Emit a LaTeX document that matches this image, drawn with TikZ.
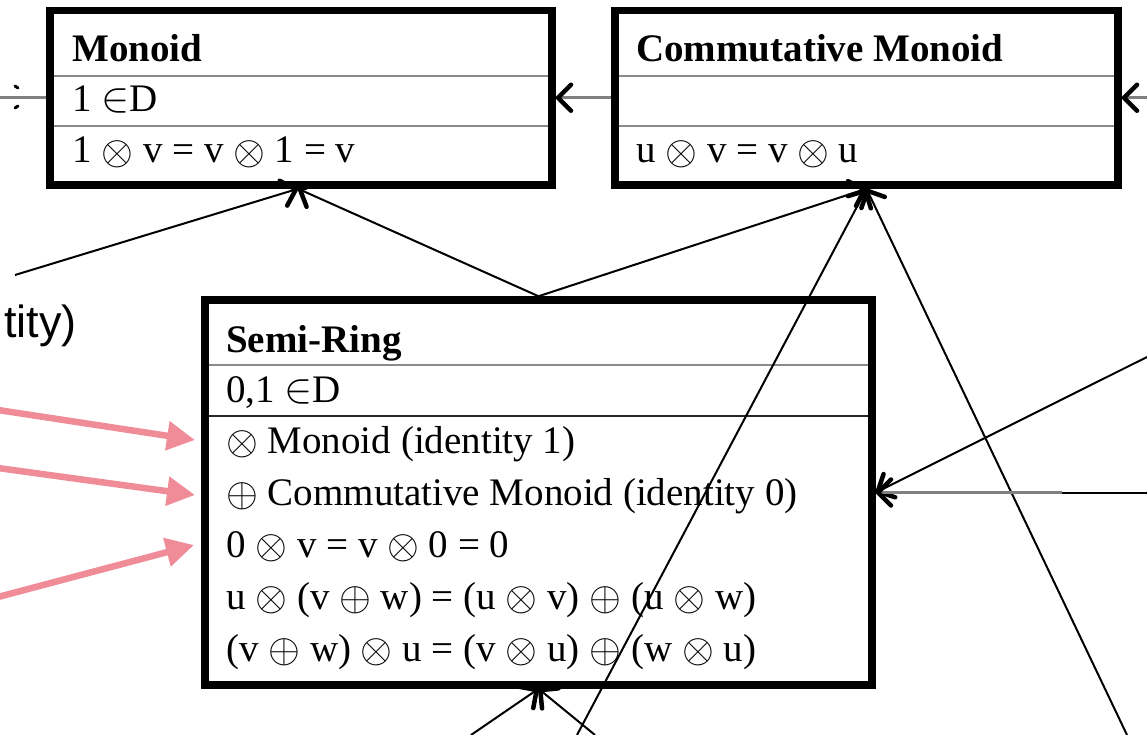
\RequirePackage{fix-cm}
\documentclass[tikz,border=0pt]{standalone}
\usepackage{fontspec}
\usepackage{graphicx}
\setmainfont{Liberation Serif}
\newfontfamily\sansf{Liberation Sans}
\usetikzlibrary{arrows.meta}
\definecolor{pinkarrow}{HTML}{F08C98}
\definecolor{divgray}{HTML}{8A8A8A}
\definecolor{linegray}{HTML}{808080}
\newcommand\otm{\raisebox{-0.04em}{\scalebox{1.05}{$\otimes$}}}
\newcommand\opl{\raisebox{-0.04em}{\scalebox{1.05}{$\oplus$}}}
\newcommand\elm{\scalebox{1.08}{$\in$}}
\begin{document}
\begin{tikzpicture}[x=1pt,y=-1pt,
  box/.style={draw=black, line width=7.5pt, rectangle, inner sep=0pt},
  txt/.style={anchor=base west, inner sep=0pt, font=\fontsize{39}{52}\selectfont},
  ttl/.style={anchor=base west, inner sep=0pt, font=\fontsize{39}{52}\selectfont\bfseries},
  divider/.style={draw=divgray, line width=2.5pt},
  darkdivider/.style={draw=black!85, line width=2pt},
  barb/.tip={Straight Barb[length=13pt,width=26pt,line width=4.5pt,round,color=black]},
  conn/.style={draw=black, line width=2pt, -barb},
  gconn/.style={draw=linegray, line width=3pt, -barb},
  gline/.style={draw=linegray, line width=3pt},
  pinkarr/.style={draw=pinkarrow, line width=6.5pt, -{Triangle[length=28pt,width=28pt,color=pinkarrow]}}
]
\useasboundingbox (0,0) rectangle (1147,735);
\clip (0,0) rectangle (1147,735);

% boxes
\node[box, minimum width=502pt, minimum height=174.5pt] (monoid) at (301,97.75) {};
\node[box, minimum width=503pt, minimum height=174.5pt] (cmon) at (866.5,97.75) {};
\node[box, minimum width=667pt, minimum height=385pt] (semi) at (538.5,492.5) {};

% dividers
\draw[divider] (54,76) -- (548,76);
\draw[divider] (54,126) -- (548,126);
\draw[divider] (619,76) -- (1114,76);
\draw[divider] (619,126) -- (1114,126);
\draw[divider] (209,365) -- (868,365);
\draw[darkdivider] (209,416) -- (868,416);

% Monoid texts
\node[ttl] (mt) at (72,62) {Monoid};
\node[txt] (m1) at (72,112) {1 \elm D};
\node[txt] (m2) at (72,163) {1 \otm{} v = v \otm{} 1 = v};

% Commutative Monoid texts
\node[ttl] (ct) at (636,62) {Commutative Monoid};
\node[txt] (c2) at (636,163) {u \otm{} v = v \otm{} u};

% Semi-Ring texts
\node[ttl] (st) at (226,352) {Semi-Ring};
\node[txt] (s0) at (226,402) {0,1 \elm D};
\node[txt] (s1) at (226,453) {\otm{} Monoid (identity 1)};
\node[txt] (s2) at (226,505) {\opl{} Commutative Monoid (identity 0)};
\node[txt] (s3) at (226,557) {0 \otm{} v = v \otm{} 0 = 0};
\node[txt] (s4) at (226,609) {u \otm{} (v \opl{} w) = (u \otm{} v) \opl{} (u \otm{} w)};
\node[txt] (s5) at (226,661) {(v \opl{} w) \otm{} u = (v \otm{} u) \opl{} (w \otm{} u)};

% cut-off label on the left
\node[anchor=base east, inner sep=0pt, font=\sansf\fontsize{45}{52}\selectfont] (lbl) at (77,337) {tity)};

% free ends
\coordinate (lm) at (-2,97.75);
\coordinate (rc) at (1152,97.75);
\coordinate (a1) at (15,275);
\coordinate (b1) at (577,735);
\coordinate (b2) at (1127,735);
\coordinate (r1) at (1147,357);
\coordinate (r2) at (1147,492.5);
\coordinate (r2g) at (1062,492.5);
\coordinate (b3) at (471,735);
\coordinate (b4) at (595,735);
\coordinate (mtip) at ([xshift=-3pt]monoid.south);
\coordinate (pk1s) at (-2,410);
\coordinate (pk1) at (195,440);
\coordinate (pk2s) at (-2,468);
\coordinate (pk2) at (195,495);
\coordinate (pk3s) at (-2,597);
\coordinate (pk3) at (194,545);

% horizontal connectors at the top
\draw[gline] (monoid.west) -- (lm);
\draw[black, line width=3pt, line cap=round] (15,86) -- (18,88);
\draw[black, line width=3pt, line cap=round] (15,108) -- (18,106);
\draw[gconn] (cmon.west) -- (monoid.east);
\draw[gconn] (rc) -- (cmon.east);

% connectors to Monoid
\draw[conn] (a1) -- (mtip);
\draw[conn] (semi.north) -- (mtip);

% connectors to Commutative Monoid
\draw[conn] (semi.north) -- (cmon.south);
\draw[conn] (b1) -- (cmon.south);
\draw[conn] (b2) -- (cmon.south);

% connectors to Semi-Ring
\draw[conn] (r1) -- (semi.east);
\draw[draw=black, line width=2pt] (r2) -- (r2g);
\draw[gconn] (r2g) -- (semi.east);
\draw[conn] (b3) -- (semi.south);
\draw[conn] (b4) -- (semi.south);

% pink arrows
\draw[pinkarr] (pk1s) -- (pk1);
\draw[pinkarr] (pk2s) -- (pk2);
\draw[pinkarr] (pk3s) -- (pk3);
\end{tikzpicture}
\end{document}
